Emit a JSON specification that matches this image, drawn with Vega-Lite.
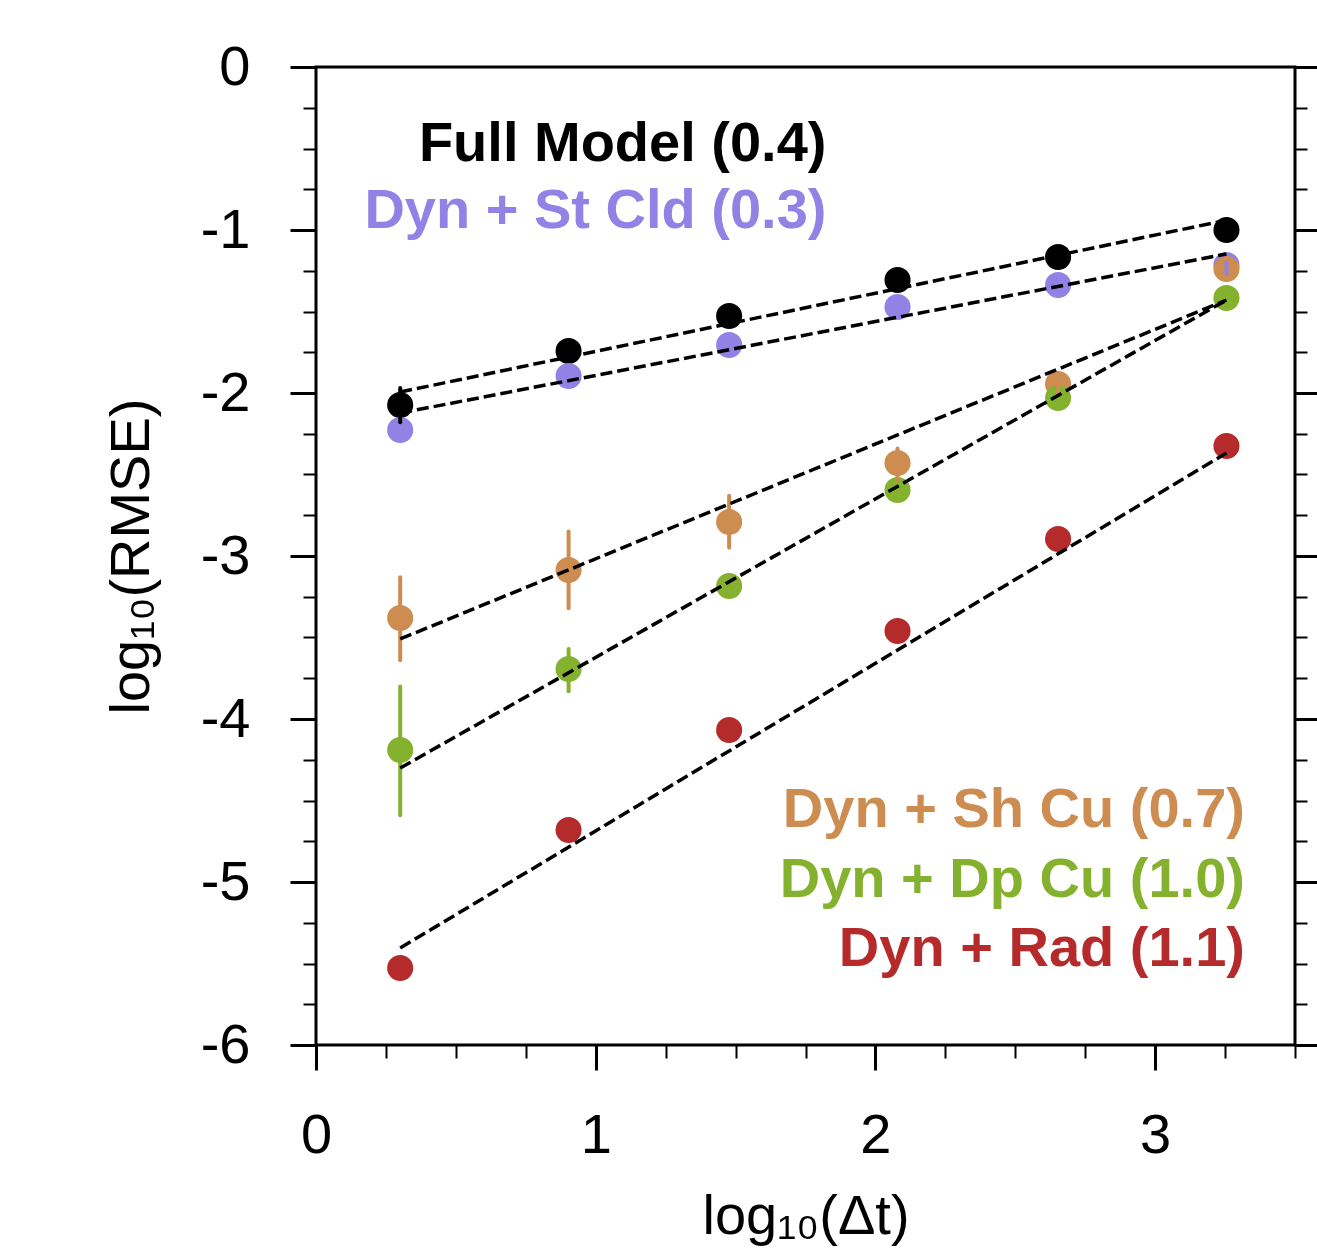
{
  "$schema": "https://vega.github.io/schema/vega-lite/v6.json",
  "width": 979,
  "height": 978,
  "autosize": {"type": "none"},
  "padding": {"left": 316, "top": 67, "right": 22, "bottom": 211},
  "config": {
    "view": {"stroke": "black", "strokeWidth": 3},
    "font": "Liberation Sans",
    "axis": {"grid": false, "domain": false, "tickColor": "black", "labelColor": "black", "titleColor": "black", "labelFont": "Liberation Sans", "titleFont": "Liberation Sans"}
  },
  "datasets": {
    "points": [
      {"series": "Full", "x": 0.301, "y": -2.074},
      {"series": "Full", "x": 0.903, "y": -1.742},
      {"series": "Full", "x": 1.477, "y": -1.528},
      {"series": "Full", "x": 2.079, "y": -1.307},
      {"series": "Full", "x": 2.653, "y": -1.166},
      {"series": "Full", "x": 3.255, "y": -1.0},
      {"series": "StCld", "x": 0.301, "y": -2.227},
      {"series": "StCld", "x": 0.903, "y": -1.896},
      {"series": "StCld", "x": 1.477, "y": -1.706},
      {"series": "StCld", "x": 2.079, "y": -1.472},
      {"series": "StCld", "x": 2.653, "y": -1.337},
      {"series": "StCld", "x": 3.255, "y": -1.215},
      {"series": "ShCu", "x": 0.301, "y": -3.38},
      {"series": "ShCu", "x": 0.903, "y": -3.086},
      {"series": "ShCu", "x": 1.477, "y": -2.791},
      {"series": "ShCu", "x": 2.079, "y": -2.43},
      {"series": "ShCu", "x": 2.653, "y": -1.945},
      {"series": "ShCu", "x": 3.255, "y": -1.239},
      {"series": "DpCu", "x": 0.301, "y": -4.19},
      {"series": "DpCu", "x": 0.903, "y": -3.693},
      {"series": "DpCu", "x": 1.477, "y": -3.184},
      {"series": "DpCu", "x": 2.079, "y": -2.595},
      {"series": "DpCu", "x": 2.653, "y": -2.031},
      {"series": "DpCu", "x": 3.255, "y": -1.417},
      {"series": "Rad", "x": 0.301, "y": -5.528},
      {"series": "Rad", "x": 0.903, "y": -4.681},
      {"series": "Rad", "x": 1.477, "y": -4.067},
      {"series": "Rad", "x": 2.079, "y": -3.46},
      {"series": "Rad", "x": 2.653, "y": -2.896},
      {"series": "Rad", "x": 3.255, "y": -2.325}
    ],
    "errors": [
      {"series": "Full", "x": 0.301, "lo": -2.18, "hi": -1.97},
      {"series": "StCld", "x": 3.255, "lo": -1.27, "hi": -1.2},
      {"series": "ShCu", "x": 0.301, "lo": -3.64, "hi": -3.13},
      {"series": "ShCu", "x": 0.903, "lo": -3.32, "hi": -2.85},
      {"series": "ShCu", "x": 1.477, "lo": -2.95, "hi": -2.63},
      {"series": "ShCu", "x": 2.079, "lo": -2.53, "hi": -2.34},
      {"series": "ShCu", "x": 2.653, "lo": -2.0, "hi": -1.9},
      {"series": "DpCu", "x": 0.301, "lo": -4.59, "hi": -3.8},
      {"series": "DpCu", "x": 0.903, "lo": -3.83, "hi": -3.57},
      {"series": "DpCu", "x": 2.079, "lo": -2.64, "hi": -2.55}
    ],
    "fits": [
      {"series": "Full", "x": 0.301, "y": -1.994},
      {"series": "Full", "x": 3.255, "y": -0.94},
      {"series": "StCld", "x": 0.301, "y": -2.123},
      {"series": "StCld", "x": 3.255, "y": -1.147},
      {"series": "ShCu", "x": 0.301, "y": -3.509},
      {"series": "ShCu", "x": 3.255, "y": -1.43},
      {"series": "DpCu", "x": 0.301, "y": -4.301},
      {"series": "DpCu", "x": 3.255, "y": -1.43},
      {"series": "Rad", "x": 0.301, "y": -5.405},
      {"series": "Rad", "x": 3.255, "y": -2.368}
    ],
    "labels": [
      {"series": "Full", "label": "Full Model (0.4)", "x": 1.825, "y": -0.577},
      {"series": "StCld", "label": "Dyn + St Cld (0.3)", "x": 1.825, "y": -0.988},
      {"series": "ShCu", "label": "Dyn + Sh Cu (0.7)", "x": 3.321, "y": -4.663},
      {"series": "DpCu", "label": "Dyn + Dp Cu (1.0)", "x": 3.321, "y": -5.092},
      {"series": "Rad", "label": "Dyn + Rad (1.1)", "x": 3.321, "y": -5.515}
    ]
  },
  "resolve": {"axis": {"x": "independent", "y": "independent"}},
  "layer": [
    {
      "data": {"name": "points"},
      "mark": {"type": "circle", "size": 680, "opacity": 1},
      "encoding": {
        "x": {
          "field": "x", "type": "quantitative",
          "scale": {"domain": [0, 3.5], "nice": false, "zero": false},
          "axis": {
            "orient": "bottom",
            "values": [0, 0.25, 0.5, 0.75, 1, 1.25, 1.5, 1.75, 2, 2.25, 2.5, 2.75, 3, 3.25, 3.5],
            "tickSize": {"condition": {"test": "datum.value % 1 === 0", "value": 25}, "value": 13},
            "tickWidth": {"condition": {"test": "datum.value % 1 === 0", "value": 3}, "value": 2},
            "labelExpr": "datum.value % 1 === 0 ? '' + datum.value : ''",
            "labelFontSize": 56,
            "labelPadding": 38,
            "labelFlush": false,
            "labelOverlap": false,
            "title": "log₁₀(Δt)",
            "titleFontSize": 56,
            "titleFontWeight": "normal",
            "titlePadding": 26
          }
        },
        "y": {
          "field": "y", "type": "quantitative",
          "scale": {"domain": [-6, 0], "nice": false, "zero": false},
          "axis": {
            "orient": "left",
            "values": [-6, -5.75, -5.5, -5.25, -5, -4.75, -4.5, -4.25, -4, -3.75, -3.5, -3.25, -3, -2.75, -2.5, -2.25, -2, -1.75, -1.5, -1.25, -1, -0.75, -0.5, -0.25, 0],
            "tickSize": {"condition": {"test": "datum.value % 1 === 0", "value": 26}, "value": 13},
            "tickWidth": {"condition": {"test": "datum.value % 1 === 0", "value": 3}, "value": 2},
            "labelExpr": "datum.value % 1 === 0 ? '' + datum.value : ''",
            "labelFontSize": 56,
            "labelPadding": 40,
            "labelFlush": false,
            "labelOverlap": false,
            "title": "log₁₀(RMSE)",
            "titleFontSize": 56,
            "titleFontWeight": "normal",
            "titlePadding": 40
          }
        },
        "color": {
          "field": "series", "type": "nominal",
          "scale": {"domain": ["Full", "StCld", "ShCu", "DpCu", "Rad"], "range": ["#000000", "#9282E6", "#CD8C50", "#85B22E", "#B52B2B"]},
          "legend": null
        }
      }
    },
    {
      "data": {"name": "errors"},
      "mark": {"type": "rule", "strokeWidth": 4, "strokeCap": "round"},
      "encoding": {
        "x": {"field": "x", "type": "quantitative", "scale": {"domain": [0, 3.5], "nice": false, "zero": false}, "axis": null},
        "y": {"field": "lo", "type": "quantitative", "scale": {"domain": [-6, 0], "nice": false, "zero": false}, "axis": null},
        "y2": {"field": "hi"},
        "color": {"field": "series", "type": "nominal", "legend": null}
      }
    },
    {
      "data": {"name": "fits"},
      "mark": {"type": "line", "color": "black", "strokeWidth": 3.5, "strokeDash": [12, 5]},
      "encoding": {
        "x": {"field": "x", "type": "quantitative", "scale": {"domain": [0, 3.5], "nice": false, "zero": false}, "axis": null},
        "y": {
          "field": "y", "type": "quantitative",
          "scale": {"domain": [-6, 0], "nice": false, "zero": false},
          "axis": {
            "orient": "right",
            "values": [-6, -5.75, -5.5, -5.25, -5, -4.75, -4.5, -4.25, -4, -3.75, -3.5, -3.25, -3, -2.75, -2.5, -2.25, -2, -1.75, -1.5, -1.25, -1, -0.75, -0.5, -0.25, 0],
            "tickSize": {"condition": {"test": "datum.value % 1 === 0", "value": 22}, "value": 12},
            "tickWidth": {"condition": {"test": "datum.value % 1 === 0", "value": 3}, "value": 2},
            "labels": false,
            "title": null
          }
        },
        "detail": {"field": "series"}
      }
    },
    {
      "data": {"name": "labels"},
      "mark": {"type": "text", "align": "right", "baseline": "alphabetic", "fontSize": 56, "fontWeight": "bold", "font": "Liberation Sans"},
      "encoding": {
        "x": {"field": "x", "type": "quantitative", "scale": {"domain": [0, 3.5], "nice": false, "zero": false}, "axis": null},
        "y": {"field": "y", "type": "quantitative", "scale": {"domain": [-6, 0], "nice": false, "zero": false}, "axis": null},
        "text": {"field": "label"},
        "color": {"field": "series", "type": "nominal", "legend": null}
      }
    }
  ]
}
